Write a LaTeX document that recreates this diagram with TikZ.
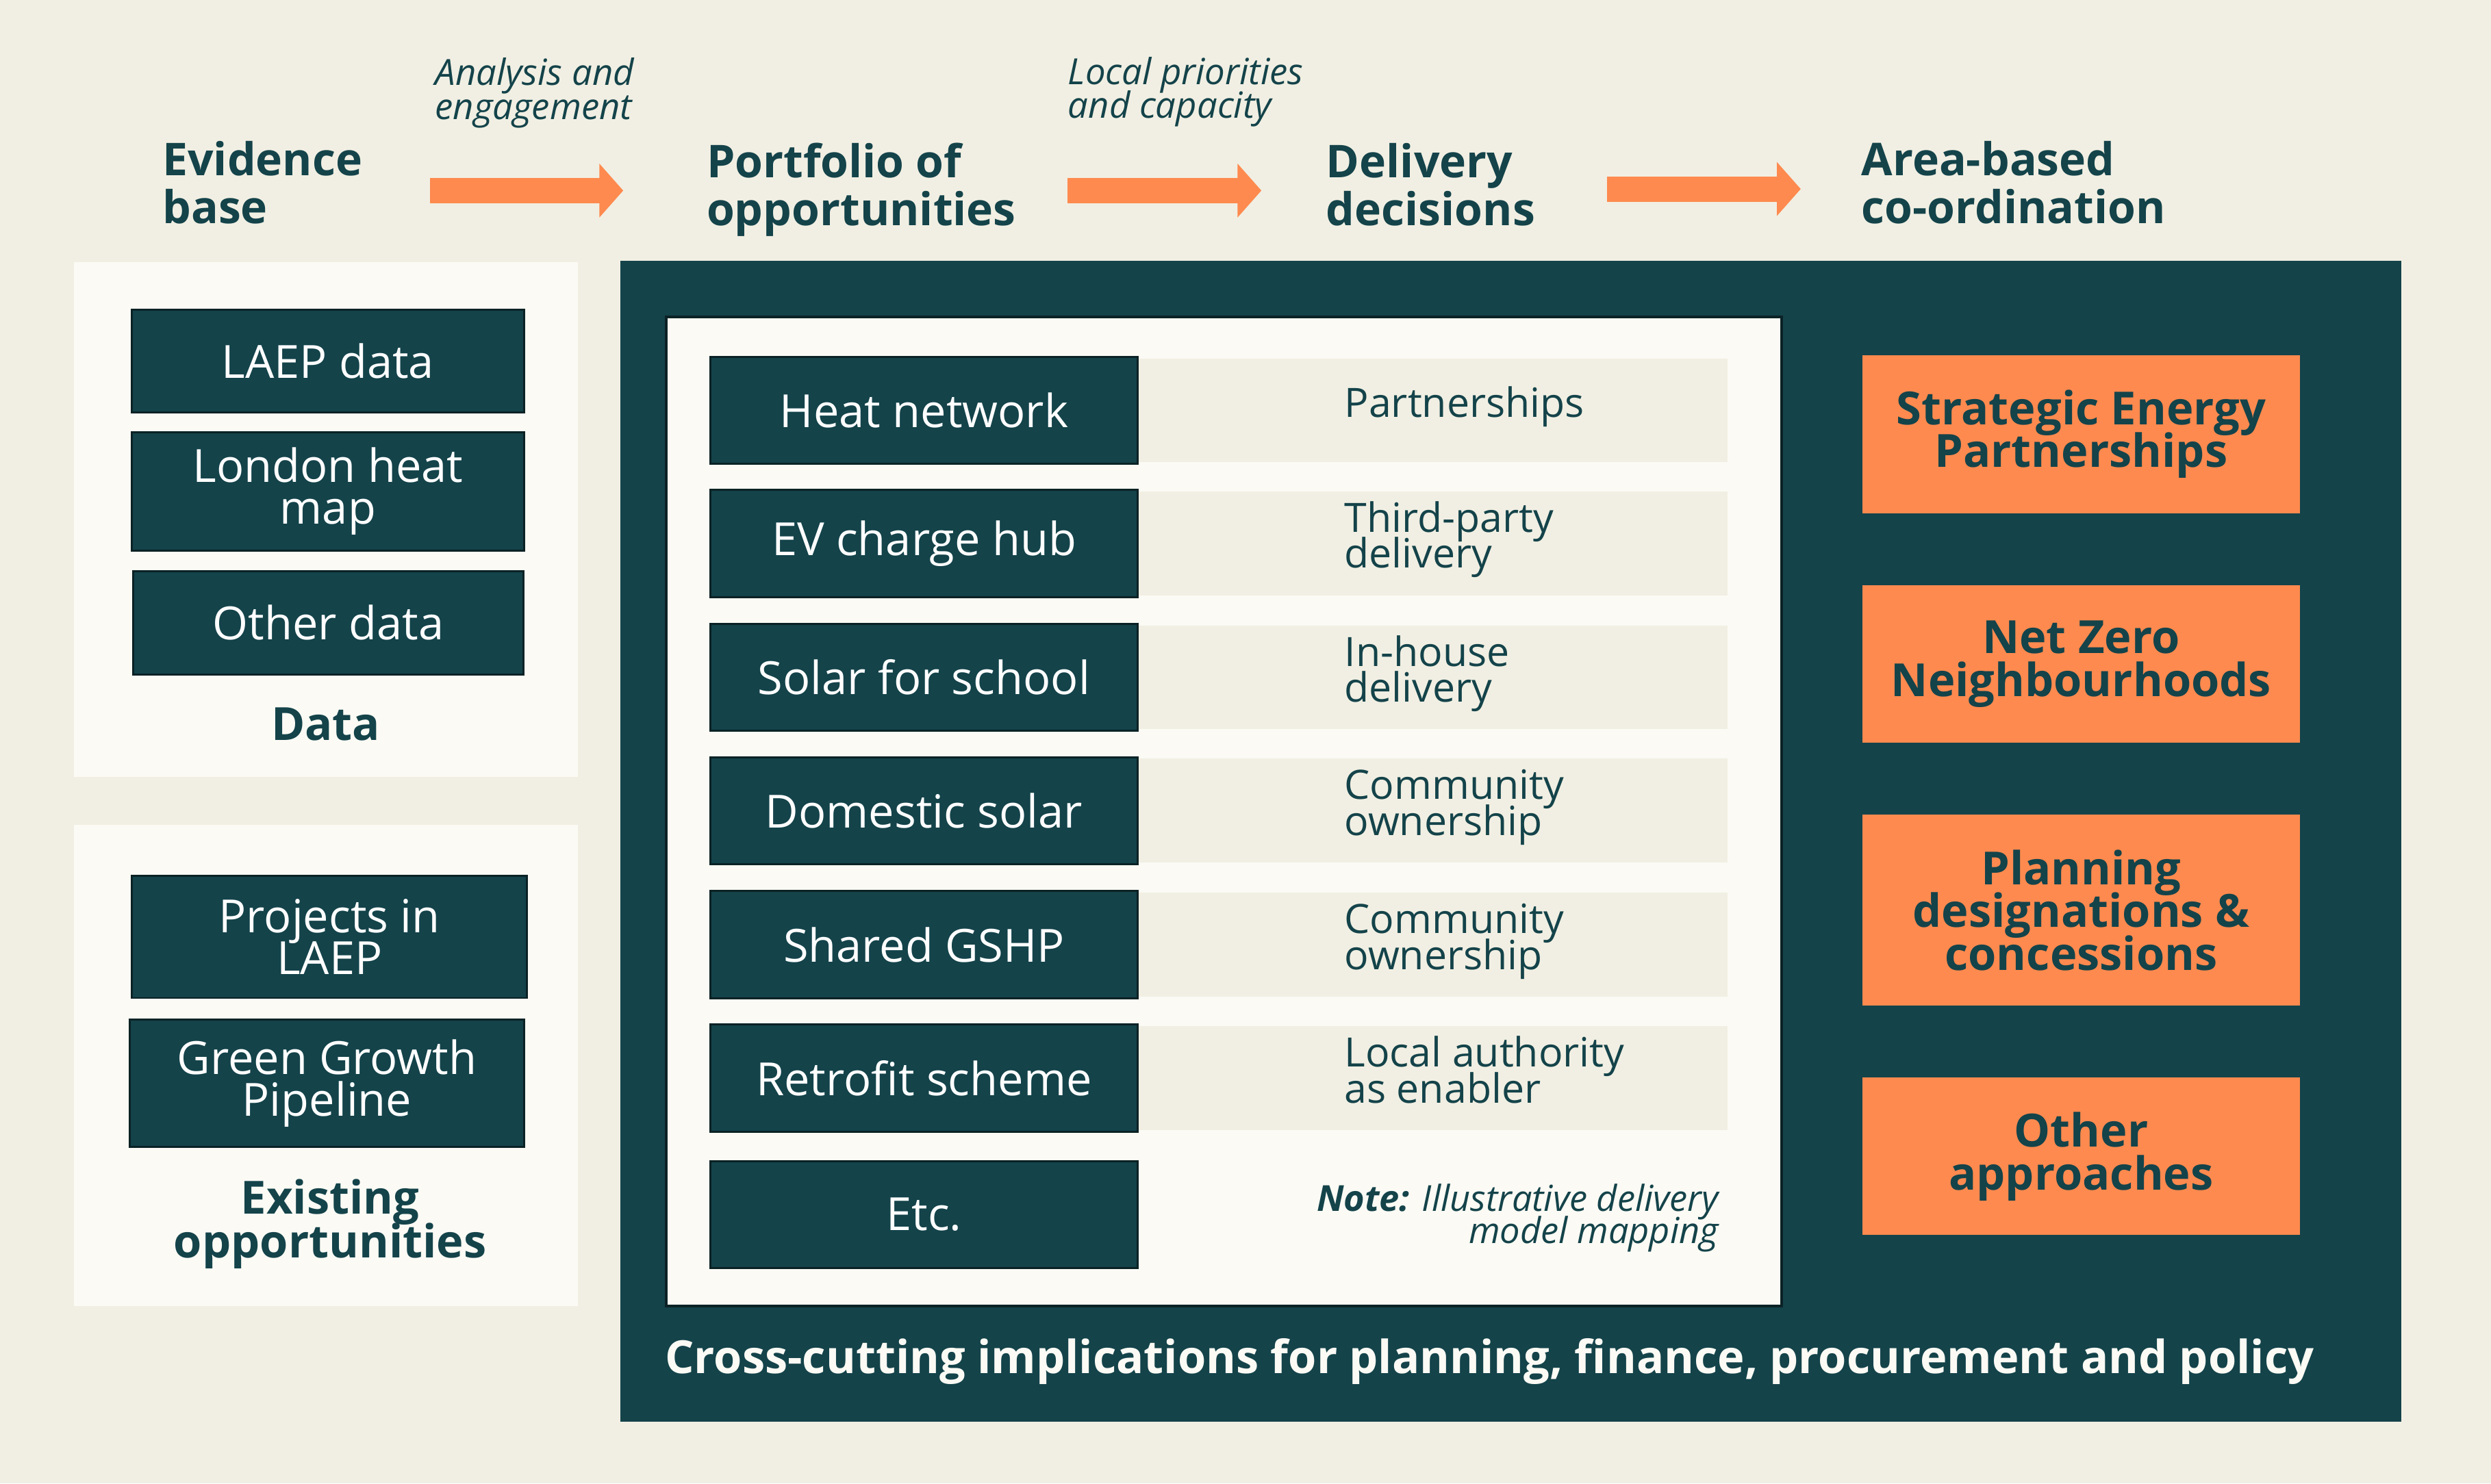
\documentclass[tikz,border=0pt]{standalone}
\usepackage{fontspec}
\setmainfont{Open Sans}
\usetikzlibrary{arrows.meta}
\definecolor{bgc}{HTML}{F1EFE3}
\definecolor{paperc}{HTML}{FBFAF4}
\definecolor{tealc}{HTML}{14434A}
\definecolor{edgec}{HTML}{0B2225}
\definecolor{orangec}{HTML}{FE8A4F}
\newlength{\ux}
\setlength{\ux}{0.023202cm}
\begin{document}
\lineskiplimit=-50pt\relax
\begin{tikzpicture}[x=0.023202cm, y=-0.023202cm,
  header/.style={anchor=base west, align=left, inner sep=0pt, text=tealc, font=\bfseries\fontsize{18.8}{19.8}\selectfont},
  flowlab/.style={anchor=base west, align=left, inner sep=0pt, text=tealc, font=\itshape\fontsize{15}{14}\selectfont},
  bigarrow/.style={orangec, line width=10.56pt, -{Triangle[length=9.9pt, width=21.8pt]}},
  darkbox/.style={draw=edgec, line width=0.85pt, fill=tealc, text=white, align=center, inner sep=0pt, font=\fontsize{19}{17.2}\selectfont},
  grouplab/.style={anchor=base, align=center, inner sep=0pt, text=tealc, font=\bfseries\fontsize{19}{18}\selectfont},
  rowbg/.style={fill=bgc, inner sep=0pt, minimum width=371.2\ux, minimum height=65.3\ux, anchor=west},
  rowtxt/.style={anchor=base west, align=left, inner sep=0pt, text=tealc, font=\fontsize{16.8}{15}\selectfont},
  projbox/.style={darkbox, minimum width=268.7\ux, minimum height=67.3\ux},
  areabox/.style={fill=orangec, text=tealc, align=center, inner sep=0pt, minimum width=275.6\ux, font=\bfseries\fontsize{19}{17.8}\selectfont},
]
\useasboundingbox (0,0) rectangle (1568,934);
\fill[bgc] (0,0) rectangle (1568,934);

% stage headers (anchor = baseline of last line)
\node[header] (hev) at (102,140.6) {Evidence\\base};
\node[header] (hpo) at (444.5,142) {Portfolio of\\opportunities};
\node[header] (hde) at (834.5,142) {Delivery\\decisions};
\node[header] (har) at (1171.5,140.6) {Area-based\\co-ordination};
\node[flowlab] (lab1) at (273.7,75) {Analysis and\\engagement};
\node[flowlab] (lab2) at (672,74.3) {Local priorities\\and capacity};

% block arrows
\coordinate (a1s) at (270.7,120); \coordinate (a1e) at (392.3,120);
\coordinate (a2s) at (672,120);   \coordinate (a2e) at (794,120);
\coordinate (a3s) at (1011.6,119); \coordinate (a3e) at (1133.5,119);
\draw[bigarrow] (a1s) -- (a1e);
\draw[bigarrow] (a2s) -- (a2e);
\draw[bigarrow] (a3s) -- (a3e);

% left panels
\fill[paperc] (46.5,164.9) rectangle (363.7,489);
\fill[paperc] (46.5,519.4) rectangle (363.7,822.2);
\node[darkbox, minimum width=246.9\ux, minimum height=64.7\ux] (laep) at (206.4,227.3) {LAEP data};
\node[darkbox, minimum width=246.9\ux, minimum height=74.7\ux] (lhm) at (206.4,309.4) {London heat\\map};
\node[darkbox, minimum width=246\ux, minimum height=65\ux] (odata) at (206.7,392.1) {Other data};
\node[grouplab] (datalab) at (205,466) {Data};
\node[darkbox, minimum width=248.9\ux, minimum height=77\ux] (pil) at (207.4,589.9) {Projects in\\LAEP};
\node[darkbox, minimum width=248.4\ux, minimum height=80.2\ux] (ggp) at (205.8,682.1) {Green Growth\\Pipeline};
\node[grouplab] (exlab) at (207.8,791.8) {Existing\\opportunities};

% main dark panel
\fill[tealc] (390.4,164.2) rectangle (1511.6,895.4);
\filldraw[fill=paperc, draw=edgec, line width=1.14pt] (419.5,199.5) rectangle (1121.5,822.3);

% rows: backgrounds
\node[rowbg] (r1) at (716,258.35) {};
\node[rowbg] (r2) at (716,342.2) {};
\node[rowbg] (r3) at (716,426.5) {};
\node[rowbg] (r4) at (716,510.4) {};
\node[rowbg] (r5) at (716,594.8) {};
\node[rowbg] (r6) at (716,678.85) {};

% rows: opportunity boxes
\node[projbox] (p1) at (581.65,258.35) {Heat network};
\node[projbox] (p2) at (581.65,342.2) {EV charge hub};
\node[projbox] (p3) at (581.65,426.5) {Solar for school};
\node[projbox] (p4) at (581.65,510.4) {Domestic solar};
\node[projbox] (p5) at (581.65,594.8) {Shared GSHP};
\node[projbox] (p6) at (581.65,678.85) {Retrofit scheme};
\node[projbox] (p7) at (581.65,764.75) {Etc.};

% rows: delivery models (anchor = baseline of last line)
\node[rowtxt] (d1) at (846,262.8) {Partnerships};
\node[rowtxt] (d2) at (846,357.7) {Third-party\\delivery};
\node[rowtxt] (d3) at (846,442.1) {In-house\\delivery};
\node[rowtxt] (d4) at (846,526) {Community\\ownership};
\node[rowtxt] (d5) at (846,610.4) {Community\\ownership};
\node[rowtxt] (d6) at (846,694.4) {Local authority\\as enabler};
\node[anchor=base east, align=right, inner sep=0pt, text=tealc, font=\itshape\fontsize{14.9}{13.4}\selectfont] (note) at (1082,783) {\textbf{Note:} Illustrative delivery\\model mapping};

% area-based boxes
\node[areabox, minimum height=99.5\ux] (sep) at (1310,273.35) {Strategic Energy\\Partnerships};
\node[areabox, minimum height=99.1\ux] (nzn) at (1310,418.05) {Net Zero\\Neighbourhoods};
\node[areabox, minimum height=120.5\ux] (pdc) at (1310,573.05) {Planning\\designations \&\\concessions};
\node[areabox, minimum height=99.1\ux] (oth) at (1310,728.15) {Other\\approaches};

% cross-cutting
\node[anchor=base west, inner sep=0pt, text=paperc, font=\bfseries\fontsize{19}{20}\selectfont] (cross) at (418.3,865) {Cross-cutting implications for planning, finance, procurement and policy};
\end{tikzpicture}
\end{document}
